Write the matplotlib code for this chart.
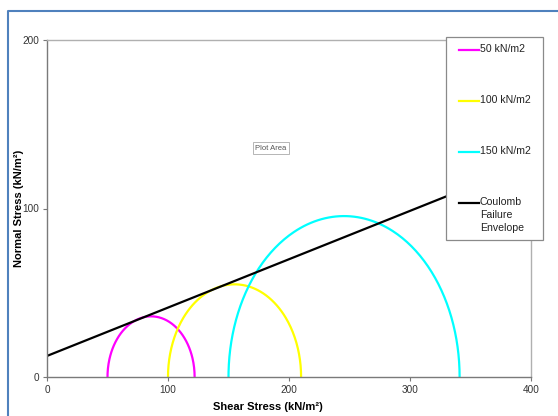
import numpy as np
import matplotlib
matplotlib.use("Agg")
import matplotlib.pyplot as plt
from matplotlib.lines import Line2D
from matplotlib.patches import Rectangle

plt.rcParams['font.family'] = ['Liberation Sans', 'DejaVu Sans']

# Mohr circles: confining (sigma3) and major (sigma1) stresses, kN/m2
sigma3 = [50, 100, 150]
sigma1 = [122, 210, 341]
colores = ['#ff00ff', '#ffff00', '#00ffff']
etiquetas = ['50 kN/m2', '100 kN/m2', '150 kN/m2']

# Coulomb failure envelope (two end points)
env_x = [0, 345]
env_y = [12.5, 111.5]


def main():
    W, H = 558, 416
    fig = plt.figure(figsize=(5.58, 4.16), dpi=100)
    ax = fig.add_axes([47 / W, 1 - 377 / H, 484 / W, 337 / H])

    # semicirculos de Mohr
    theta = np.linspace(0, np.pi, 200)
    for s3, s1, c in zip(sigma3, sigma1, colores):
        centro = (s1 + s3) / 2
        radio = (s1 - s3) / 2
        ax.plot(centro + radio * np.cos(theta), radio * np.sin(theta),
                color=c, lw=1.6, solid_capstyle='butt')

    ax.plot(env_x, env_y, color='black', lw=1.6)

    ax.set_xlim(0, 400)
    ax.set_ylim(0, 200)
    ax.set_xticks([0, 100, 200, 300, 400])
    ax.set_yticks([0, 100, 200])
    ax.tick_params(labelsize=7.2, length=3, width=0.8, colors='#777777',
                   labelcolor='#333333', pad=2.5)

    for lado in ['left', 'bottom']:
        ax.spines[lado].set_color('#7a7a7a')
        ax.spines[lado].set_linewidth(1.0)
    for lado in ['top', 'right']:
        ax.spines[lado].set_color('#b0b0b0')
        ax.spines[lado].set_linewidth(1.0)

    ax.set_xlabel('Shear Stress (kN/m²)', fontsize=8, fontweight='bold')
    ax.set_ylabel('Normal Stress (kN/m²)', fontsize=8, fontweight='bold')
    ax.xaxis.set_label_coords(268 / W, 1 - 407 / H, transform=fig.transFigure)
    ax.yaxis.set_label_coords(19 / W, 1 - 208 / H, transform=fig.transFigure)
    ax.xaxis.label.set_va('center')
    ax.yaxis.label.set_va('center')

    # leyenda dibujada a mano (en pixeles de la figura)
    caja = Rectangle((446 / W, 1 - 240 / H), 97 / W, 203 / H,
                     transform=fig.transFigure, facecolor='white',
                     edgecolor='#8a8a8a', lw=0.9, zorder=5)
    fig.add_artist(caja)
    filas = [50, 101, 152, 203]
    textos = etiquetas + ['Coulomb\nFailure\nEnvelope']
    for y, col, txt in zip(filas, colores + ['black'], textos):
        fig.add_artist(Line2D([459 / W, 479 / W], [1 - y / H, 1 - y / H],
                              transform=fig.transFigure, color=col, lw=1.6,
                              zorder=6))
        fig.text(480 / W, 1 - (y - 6) / H, txt, fontsize=7.6, va='top',
                 ha='left', color='#222222', linespacing=1.35, zorder=6)

    # etiqueta "Plot Area"
    fig.text(271 / W, 1 - 148 / H, 'Plot Area', fontsize=5.5, ha='center',
             va='center', color='#555555',
             bbox=dict(boxstyle='square,pad=0.3', fc='white', ec='#aaaaaa',
                       lw=0.6))

    # marco azul del grafico
    fig.add_artist(Line2D([8 / W, 8 / W, 1.0], [0.0, 1 - 11 / H, 1 - 11 / H],
                          transform=fig.transFigure, color='#4f81bd', lw=1.5))

    plt.savefig('out.png', dpi=100)


if __name__ == "__main__":
    main()
